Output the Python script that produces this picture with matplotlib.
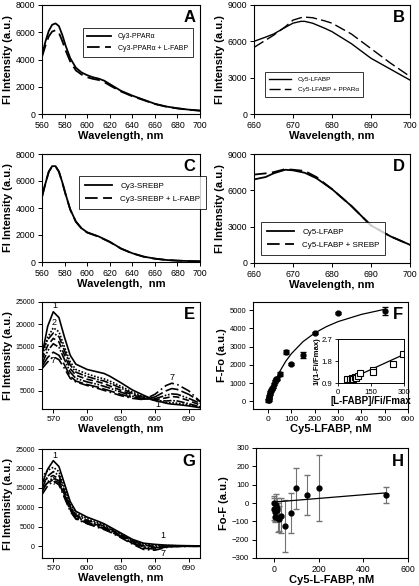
import matplotlib
matplotlib.use("Agg")
import matplotlib.pyplot as plt

plt.rcParams['font.family'] = ['Liberation Sans', 'DejaVu Sans']

# ---------------- data ----------------
# Panel A
wl_A = [560, 563, 566, 569, 572, 575, 578, 581, 585, 590, 595, 600, 605, 610, 615, 620, 630, 640, 650, 660, 670, 680, 690, 700]
A_solid = [4300, 5300, 6100, 6550, 6650, 6450, 5800, 5000, 4100, 3400, 3050, 2850, 2700, 2600, 2450, 2200, 1700, 1350, 1050, 750, 550, 420, 320, 250]
A_dash = [4200, 5000, 5700, 6050, 6150, 5950, 5350, 4650, 3850, 3200, 2900, 2700, 2580, 2500, 2350, 2100, 1650, 1300, 1020, 730, 540, 410, 310, 245]

# Panel B
wl_B = [660, 663, 665, 668, 670, 672, 673, 675, 678, 680, 685, 690, 695, 700]
B_solid = [6000, 6350, 6600, 7150, 7500, 7650, 7650, 7500, 7100, 6800, 5800, 4600, 3700, 2800]
B_dash = [5500, 6100, 6500, 7200, 7750, 7950, 8000, 7950, 7700, 7500, 6600, 5400, 4200, 3100]

# Panel C
wl_C = [560, 563, 566, 569, 572, 575, 578, 581, 585, 590, 595, 600, 610, 620, 630, 640, 650, 660, 670, 680, 690, 700]
C_solid = [4800, 5800, 6700, 7100, 7100, 6700, 5900, 5000, 3900, 3000, 2500, 2200, 1900, 1500, 1000, 650, 400, 250, 150, 100, 70, 50]
C_dash = [4850, 5820, 6680, 7080, 7080, 6680, 5880, 4980, 3880, 2980, 2480, 2180, 1880, 1480, 990, 640, 395, 245, 150, 100, 70, 50]

# Panel D
wl_D = [660, 663, 665, 668, 670, 673, 676, 680, 685, 690, 695, 700]
D_solid = [6900, 7100, 7400, 7700, 7650, 7450, 7000, 6100, 4700, 3100, 2200, 1500]
D_dash = [7300, 7400, 7500, 7750, 7700, 7600, 7100, 6100, 4700, 3100, 2200, 1500]

# Panels E and G (curves 1..7)
wl_EG = [560, 565, 570, 575, 580, 585, 590, 600, 610, 615, 620, 630, 640, 650, 660, 670, 675, 680, 690, 700]
E1 = [13000, 19500, 22800, 21500, 17000, 13000, 11000, 9800, 9200, 8900, 8300, 6800, 5200, 4000, 2900, 2200, 2000, 1900, 1600, 1200]
E2 = [12500, 17000, 19200, 18300, 14800, 11500, 9800, 8800, 8000, 7700, 7200, 6000, 4700, 3700, 2800, 2300, 2300, 2200, 1800, 1300]
E3 = [14000, 16500, 18000, 17200, 14000, 10800, 9200, 8200, 7500, 7200, 6700, 5600, 4400, 3500, 2800, 2700, 2800, 2700, 2100, 1400]
E4 = [12000, 15200, 16800, 16000, 13000, 10000, 8500, 7600, 7000, 6600, 6100, 5100, 4100, 3300, 3000, 3400, 3700, 3600, 2800, 1800]
E5 = [11000, 14000, 15600, 14800, 12000, 9200, 7800, 7000, 6400, 6000, 5600, 4700, 3800, 3200, 3200, 4000, 4300, 4200, 3300, 2200]
E6 = [10500, 12500, 13700, 13000, 10800, 8300, 7200, 6400, 5800, 5400, 5000, 4200, 3500, 3100, 3600, 5000, 5500, 5300, 4200, 2600]
E7 = [10000, 11500, 12700, 12000, 10000, 7800, 7000, 6200, 5500, 5100, 4700, 3900, 3300, 3000, 4200, 6200, 6700, 6400, 5000, 2600]

G1 = [16000, 19800, 22000, 20500, 16000, 11500, 9000, 7500, 6400, 5800, 5000, 3400, 1800, 800, 500, 300, 250, 200, 150, 100]
G2 = [17800, 19500, 20300, 19200, 15000, 10800, 8500, 7100, 6000, 5500, 4800, 3200, 1600, 600, 300, 200, 200, 150, 100, 80]
G3 = [15000, 18000, 19200, 18200, 14200, 10300, 8100, 6700, 5700, 5200, 4500, 3000, 1400, 300, 0, 100, 100, 100, 80, 60]
G4 = [16500, 17500, 18200, 17300, 13600, 9900, 7800, 6400, 5400, 4900, 4300, 2800, 1200, 100, -200, 0, 50, 50, 50, 40]
G5 = [14000, 16600, 17600, 16800, 13200, 9600, 7500, 6100, 5200, 4700, 4100, 2600, 1000, -200, -400, -100, 0, 0, 20, 20]
G6 = [15000, 16300, 17100, 16300, 12800, 9300, 7200, 5900, 5000, 4500, 3900, 2400, 800, -500, -700, -200, -50, 0, 10, 10]
G7 = [13300, 15500, 16800, 15800, 12400, 9000, 7000, 5800, 4800, 4300, 3700, 2200, 600, -800, -1000, -300, -100, -50, 0, 0]

# Panel F
F_x = [0, 2, 3, 5, 7, 10, 12, 15, 20, 25, 30, 35, 40, 50, 75, 100, 150, 200, 300, 500]
F_y = [50, 100, 200, 300, 400, 500, 600, 700, 800, 950, 1100, 1200, 1250, 1500, 2700, 2050, 2550, 3750, 4850, 4950]
F_err = [60, 60, 60, 60, 60, 60, 60, 60, 60, 80, 80, 100, 100, 100, 100, 60, 150, 80, 60, 200]
F_fit_x = [0, 10, 25, 50, 75, 100, 150, 200, 250, 300, 400, 500]
F_fit_y = [0, 410, 940, 1640, 2190, 2620, 3280, 3750, 4100, 4375, 4770, 5050]
Fi_x = [42, 55, 65, 70, 75, 80, 90, 100, 160, 160, 250, 295]
Fi_y = [1.06, 1.05, 1.1, 1.08, 1.15, 1.12, 1.2, 1.3, 1.44, 1.34, 1.67, 2.07]
Fi_dot_x = [65, 70, 75]
Fi_dot_y = [1.05, 1.1, 1.07]
Fi_fit_x = [40, 300]
Fi_fit_y = [1.0, 2.07]

# Panel H
H_x = [0, 2, 5, 7, 10, 12, 15, 20, 25, 30, 50, 75, 100, 150, 200, 500]
H_y = [0, -30, -50, -75, -10, -25, -40, -80, -85, -70, -125, -55, 80, 45, 80, 45]
H_err = [40, 60, 50, 30, 60, 50, 50, 80, 70, 95, 140, 110, 110, 110, 180, 45]
H_fit_x = [0, 500]
H_fit_y = [5, 55]

# ---------------- layout ----------------
W, H = 419, 586
fig = plt.figure(figsize=(W / 100, H / 100), dpi=100)


def ax_at(l, t, r, b):
    return fig.add_axes([l / W, 1 - b / H, (r - l) / W, (b - t) / H])


LAB = dict(fontsize=8, fontweight='bold')


def style(ax, letter, xlabel, ylabel, xs=6.3, ys=6.3):
    for s in ax.spines.values():
        s.set_linewidth(0.8)
    ax.tick_params(direction='out', length=3, width=0.7, pad=2)
    ax.tick_params(axis='x', labelsize=xs)
    ax.tick_params(axis='y', labelsize=ys)
    ax.set_xlabel(xlabel, labelpad=1, **LAB)
    ax.set_ylabel(ylabel, labelpad=2, **LAB)
    ax.text(0.97, 0.95, letter, transform=ax.transAxes, ha='right', va='top',
            fontsize=12, fontweight='bold')


def legend(ax, size, anchor, loc):
    leg = ax.legend(loc=loc, bbox_to_anchor=anchor, fontsize=size, frameon=True,
                    fancybox=False, edgecolor='k', handlelength=3.4, borderpad=0.7,
                    labelspacing=0.7, handletextpad=1.0)
    leg.get_frame().set_linewidth(0.7)


lw = 1.3
dash = (0, (7, 3))
# A
ax = ax_at(42, 5, 200, 114)
ax.plot(wl_A, A_solid, 'k-', lw=lw, label='Cy3-PPAR\u03b1')
ax.plot(wl_A, A_dash, color='k', ls=dash, lw=lw, label='Cy3-PPAR\u03b1 + L-FABP')
ax.set_xlim(560, 700); ax.set_ylim(0, 8000)
ax.set_xticks(range(560, 701, 20)); ax.set_yticks(range(0, 8001, 2000))
style(ax, 'A', 'Wavelength, nm', 'FI Intensity (a.u.)')
legend(ax, 5.0, (0.235, 0.82), 'upper left')

# B
ax = ax_at(254, 5, 410, 114)
ax.plot(wl_B, B_solid, 'k-', lw=1.0, label='Cy5-LFABP')
ax.plot(wl_B, B_dash, color='k', ls=(0, (8, 3)), lw=1.0, label='Cy5-LFABP + PPAR\u03b1')
ax.set_xlim(660, 700); ax.set_ylim(0, 9000)
ax.set_xticks(range(660, 701, 10)); ax.set_yticks(range(0, 9001, 3000))
style(ax, 'B', 'Wavelength, nm', 'FI Intensity (a.u.)')
legend(ax, 4.6, (0.05, 0.13), 'lower left')

# C
ax = ax_at(42, 154, 200, 262)
ax.plot(wl_C, C_solid, 'k-', lw=lw, label='Cy3-SREBP')
ax.plot(wl_C, C_dash, color='k', ls=dash, lw=lw, label='Cy3-SREBP + L-FABP')
ax.set_xlim(560, 700); ax.set_ylim(0, 8000)
ax.set_xticks(range(560, 701, 20)); ax.set_yticks(range(0, 8001, 2000))
style(ax, 'C', 'Wavelength,  nm', 'FI Intensity (a.u.)')
legend(ax, 5.8, (0.21, 0.83), 'upper left')

# D
ax = ax_at(254, 154, 410, 263)
ax.plot(wl_D, D_solid, 'k-', lw=lw, label='Cy5-LFABP')
ax.plot(wl_D, D_dash, color='k', ls=dash, lw=lw, label='Cy5-LFABP + SREBP')
ax.set_xlim(660, 700); ax.set_ylim(0, 9000)
ax.set_xticks(range(660, 701, 10)); ax.set_yticks(range(0, 9001, 3000))
style(ax, 'D', 'Wavelength, nm', 'FI Intensity (a.u.)')
legend(ax, 5.8, (0.02, 0.04), 'lower left')

styles7 = ['-', (0, (1, 1)), (0, (5, 1, 1, 1)), (0, (4, 2)), (0, (6, 1, 1, 1, 1, 1)),
           (0, (8, 2)), (0, (6, 2, 1, 2))]

# E
ax = ax_at(42, 302, 200, 409)
for ys, ls in zip([E1, E2, E3, E4, E5, E6, E7], styles7):
    ax.plot(wl_EG, ys, color='k', ls=ls, lw=1.2)
ax.set_xlim(560, 700); ax.set_ylim(900, 25000)
ax.set_xticks(range(570, 700, 30)); ax.set_yticks(range(5000, 25001, 5000))
style(ax, 'E', 'Wavelength, nm', 'FI Intensity (a.u.)', xs=6.0, ys=5.0)
for (x, y, t) in [(571, 23200, '1'), (571, 19300, '2'), (570, 10800, '7'), (675, 7000, '7'), (663, 800, '1')]:
    ax.text(x, y, t, fontsize=6.5, ha='center', va='bottom')

# F
ax = ax_at(253, 302, 408, 409)
ax.errorbar(F_x, F_y, yerr=F_err, fmt='o', color='k', ms=3.5, ecolor='k', elinewidth=0.7, capsize=2)
ax.plot(F_fit_x, F_fit_y, 'k-', lw=0.9)
ax.set_xlim(-65, 600); ax.set_ylim(-420, 5450)
ax.set_xticks(range(0, 601, 100)); ax.set_yticks(range(0, 5001, 1000))
style(ax, 'F', 'Cy5-LFABP, nM', 'F-Fo (a.u.)', xs=6.0, ys=5.5)
axi = ax_at(338, 339, 404, 383)
axi.plot(Fi_fit_x, Fi_fit_y, 'k-', lw=0.9)
axi.plot(Fi_dot_x, Fi_dot_y, 'ko', ms=3)
axi.plot(Fi_x, Fi_y, 's', mfc='white', mec='k', ms=4.5, mew=0.8)
axi.set_xlim(0, 300); axi.set_ylim(0.9, 2.7)
axi.set_xticks([0, 150, 300]); axi.set_yticks([0.9, 1.8, 2.7])
axi.tick_params(direction='out', length=2.5, width=0.6, labelsize=5.6, pad=1.5)
for s in axi.spines.values():
    s.set_linewidth(0.7)
axi.set_xlabel('[L-FABP]/Fi/Fmax', fontsize=7.0, fontweight='bold', labelpad=0.5)
axi.set_ylabel('1/(1-Fi/Fmax)', fontsize=5.6, fontweight='bold', labelpad=0.5)

# G
ax = ax_at(42, 449, 200, 558)
for ys, ls in zip([G1, G2, G3, G4, G5, G6, G7], styles7):
    ax.plot(wl_EG, ys, color='k', ls=ls, lw=1.2)
ax.set_xlim(560, 700); ax.set_ylim(-3000, 25000)
ax.set_xticks(range(570, 700, 30)); ax.set_yticks(range(0, 25001, 5000))
style(ax, 'G', 'Wavelength, nm', 'FI Intenisity (a.u.)', xs=6.0, ys=5.0)
for (x, y, t) in [(571, 22300, '1'), (571, 15200, '7'), (667, 1500, '1'), (667, -2900, '7')]:
    ax.text(x, y, t, fontsize=6.5, ha='center', va='bottom')

# H
ax = ax_at(256, 448, 408, 558)
ax.errorbar(H_x, H_y, yerr=H_err, fmt='o', color='k', ms=3.5, ecolor='0.45', elinewidth=0.8, capsize=2)
ax.plot(H_fit_x, H_fit_y, 'k-', lw=0.9)
ax.set_xlim(-80, 600); ax.set_ylim(-300, 300)
ax.set_xticks(range(0, 601, 200)); ax.set_yticks(range(-300, 301, 100))
style(ax, 'H', 'Cy5-L-FABP, nM', 'Fo-F (a.u.)', xs=6.3, ys=5.6)

fig.savefig('out.png', dpi=100)
